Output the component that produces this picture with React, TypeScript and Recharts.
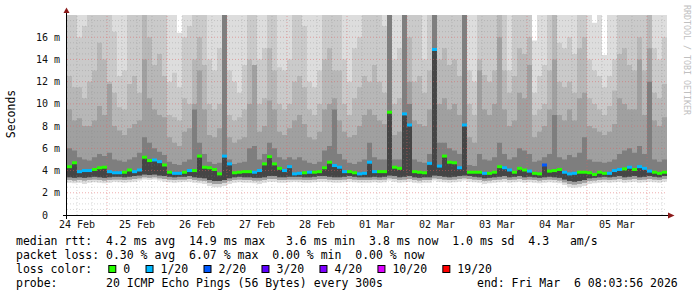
import React from 'react';
import { ComposedChart, Area, Line, XAxis, YAxis, ReferenceLine } from 'recharts';

// one value every 2 hours, starting 24 Feb 08:00 (hours counted from 24 Feb 00:00)
const START_HOUR = 8;
const STEP_HOURS = 2;

const dayLabels = ['24 Feb', '25 Feb', '26 Feb', '27 Feb', '28 Feb', '01 Mar', '02 Mar', '03 Mar', '04 Mar', '05 Mar'];
const dayNoons = [12, 36, 60, 84, 108, 132, 156, 180, 204, 228];
const yTicks = [0, 2, 4, 6, 8, 10, 12, 14, 16];

// median rtt in ms
const medianRtt = [
  4.35, 4.7, 3.9, 4.0, 4.0, 4.1, 4.25, 4.3, 3.9, 3.8, 3.8, 3.85,
  4.05, 3.9, 4.05, 5.2, 4.9, 4.95, 4.8, 4.5, 3.85, 3.75, 3.75, 3.85,
  4.0, 4.0, 5.3, 4.3, 4.25, 4.1, 3.7, 5.3, 4.6, 3.8, 3.85, 3.9,
  3.9, 3.85, 4.0, 4.6, 5.25, 4.6, 4.2, 4.0, 4.35, 3.7, 3.75, 3.8,
  3.85, 3.85, 3.9, 4.25, 4.75, 4.45, 4.3, 3.9, 3.9, 3.8, 3.7, 3.75,
  4.75, 3.9, 3.9, 3.9, 9.25, 4.3, 4.2, 9.1, 8.1, 3.9, 3.85, 3.8,
  4.65, 14.9, 4.4, 5.3, 4.75, 4.7, 4.25, 8.1, 3.85, 3.85, 3.85, 3.75,
  3.75, 3.85, 4.35, 4.25, 4.05, 3.85, 4.2, 4.05, 3.95, 3.75, 3.7, 4.5,
  3.95, 4.0, 4.1, 3.85, 3.7, 3.75, 3.85, 3.85, 3.8, 3.65, 3.85, 3.75,
  3.75, 4.0, 4.1, 4.15, 4.3, 4.1, 4.35, 4.2, 3.95, 3.85, 3.75, 3.85,
];

// lost pings out of 20
const lostPings = [
  0, 0, 1, 1, 1, 0, 0, 0, 1, 1, 1, 0,
  0, 1, 1, 0, 0, 1, 1, 0, 0, 1, 1, 0,
  1, 0, 0, 0, 0, 0, 0, 1, 1, 0, 0, 0,
  0, 1, 1, 0, 0, 0, 0, 1, 1, 1, 1, 0,
  1, 0, 0, 0, 0, 1, 1, 1, 0, 0, 1, 1,
  1, 1, 0, 0, 0, 0, 0, 1, 1, 0, 0, 0,
  1, 1, 1, 0, 0, 0, 1, 1, 0, 0, 0, 1,
  0, 0, 0, 1, 1, 0, 0, 0, 1, 0, 0, 2,
  0, 0, 0, 1, 1, 1, 0, 0, 0, 0, 0, 0,
  1, 1, 1, 0, 1, 0, 1, 1, 1, 0, 0, 0,
];

// smoke: lower edges
const smokeLow1 = [
  2.9, 2.85, 2.9, 2.8, 2.9, 2.95, 2.9, 2.85, 2.9, 3.0, 2.95, 2.9,
  2.95, 3.0, 3.1, 3.2, 3.15, 3.2, 3.1, 3.0, 2.95, 2.9, 2.95, 3.0,
  3.0, 2.9, 2.85, 2.8, 2.6, 2.5, 2.5, 2.6, 2.8, 2.9, 2.95, 2.9,
  2.9, 2.85, 2.8, 2.9, 3.0, 3.0, 2.9, 2.9, 2.95, 3.0, 2.95, 2.9,
  2.9, 2.95, 3.0, 3.0, 2.95, 2.9, 2.9, 2.95, 3.0, 2.95, 2.9, 2.9,
  2.9, 2.95, 2.9, 2.95, 3.1, 3.0, 2.9, 2.95, 3.0, 2.9, 2.85, 2.9,
  2.9, 3.1, 3.0, 2.95, 2.9, 2.95, 3.0, 3.1, 3.0, 2.95, 2.9, 2.8,
  2.85, 2.9, 2.95, 3.0, 2.9, 2.95, 3.0, 2.9, 2.95, 2.9, 2.85, 2.9,
  2.95, 2.9, 2.85, 2.7, 2.5, 2.45, 2.5, 2.6, 2.8, 2.85, 2.9, 2.95,
  2.9, 2.95, 3.0, 2.9, 2.95, 3.0, 2.9, 2.95, 3.0, 2.95, 2.9, 3.0,
];
const smokeLow2 = [
  3.15, 3.1, 3.15, 3.1, 3.15, 3.2, 3.15, 3.1, 3.15, 3.2, 3.2, 3.15,
  3.2, 3.25, 3.3, 3.4, 3.35, 3.4, 3.3, 3.25, 3.2, 3.15, 3.2, 3.2,
  3.25, 3.15, 3.1, 3.05, 2.9, 2.8, 2.8, 2.9, 3.05, 3.15, 3.2, 3.15,
  3.15, 3.1, 3.1, 3.15, 3.25, 3.25, 3.15, 3.15, 3.2, 3.2, 3.2, 3.15,
  3.15, 3.2, 3.25, 3.25, 3.2, 3.15, 3.15, 3.2, 3.25, 3.2, 3.15, 3.15,
  3.15, 3.2, 3.15, 3.2, 3.3, 3.25, 3.15, 3.2, 3.25, 3.15, 3.1, 3.15,
  3.15, 3.3, 3.25, 3.2, 3.15, 3.2, 3.25, 3.3, 3.25, 3.2, 3.15, 3.05,
  3.1, 3.15, 3.2, 3.25, 3.15, 3.2, 3.25, 3.15, 3.2, 3.15, 3.1, 3.15,
  3.2, 3.15, 3.1, 2.95, 2.8, 2.75, 2.8, 2.9, 3.05, 3.1, 3.15, 3.2,
  3.15, 3.2, 3.25, 3.15, 3.2, 3.25, 3.15, 3.2, 3.25, 3.2, 3.15, 3.25,
];
const smokeLow3 = [
  3.4, 3.35, 3.4, 3.35, 3.4, 3.45, 3.4, 3.35, 3.4, 3.45, 3.45, 3.4,
  3.45, 3.5, 3.55, 3.65, 3.6, 3.65, 3.55, 3.5, 3.45, 3.4, 3.45, 3.45,
  3.5, 3.4, 3.35, 3.3, 3.15, 3.05, 3.05, 3.15, 3.3, 3.4, 3.45, 3.4,
  3.4, 3.35, 3.35, 3.4, 3.5, 3.5, 3.4, 3.4, 3.45, 3.45, 3.45, 3.4,
  3.4, 3.45, 3.5, 3.5, 3.45, 3.4, 3.4, 3.45, 3.5, 3.45, 3.4, 3.4,
  3.4, 3.45, 3.4, 3.45, 3.55, 3.5, 3.4, 3.45, 3.5, 3.4, 3.35, 3.4,
  3.4, 3.55, 3.5, 3.45, 3.4, 3.45, 3.5, 3.55, 3.5, 3.45, 3.4, 3.3,
  3.35, 3.4, 3.45, 3.5, 3.4, 3.45, 3.5, 3.4, 3.45, 3.4, 3.35, 3.4,
  3.45, 3.4, 3.35, 3.2, 3.05, 3.0, 3.05, 3.15, 3.3, 3.35, 3.4, 3.45,
  3.4, 3.45, 3.5, 3.4, 3.45, 3.5, 3.4, 3.45, 3.5, 3.45, 3.4, 3.5,
];

// smoke: upper edges, lightest band first
const smokeHigh1 = [
  18, 18, 18, 18, 18, 18, 18, 18, 18, 18, 18, 18,
  18, 18, 18, 18, 18, 18, 18, 18, 18, 18, 16.4, 18,
  18, 18, 18, 18, 18, 18, 18, 18, 18, 18, 18, 18,
  18, 18, 18, 18, 18, 18, 18, 18, 18, 18, 18, 18,
  18, 18, 18, 18, 18, 18, 18, 18, 18, 18, 18, 18,
  18, 18, 18, 18, 18, 18, 18, 18, 18, 18, 18, 18,
  18, 18, 18, 18, 18, 18, 18, 18, 18, 18, 18, 18,
  18, 18, 18, 18, 18, 18, 18, 18, 18, 15.7, 18, 18,
  18, 18, 18, 18, 18, 18, 18, 18, 18, 17.3, 18, 14.4,
  18, 18, 18, 18, 18, 18, 18, 18, 18, 18, 18, 18,
];
const smokeHigh2 = [
  18, 18, 16, 17, 18, 18, 18, 18, 18, 16.5, 12.5, 13,
  18, 18, 18, 18, 18, 18, 18, 18, 12, 12.8, 11.5, 16,
  17, 18, 18, 18, 14, 13, 15, 18, 13, 12, 11, 13.5,
  18, 18, 14, 15, 18, 18, 13.3, 13, 14, 18, 18, 17,
  12, 11.5, 13, 18, 18, 18, 18, 14, 12, 15, 16, 18,
  18, 18, 18, 17, 18, 14, 15, 18, 18, 18, 18, 14,
  18, 18, 18, 18, 18, 18, 18, 18, 13, 12, 18, 18,
  18, 18, 18, 18, 13, 18, 18, 18, 18, 11, 12.5, 13.5,
  18, 18, 15.5, 15, 16, 14.5, 18, 18, 14, 13, 12.5, 11.5,
  12.5, 14, 18, 18, 18, 18, 18, 18, 18, 15, 14, 16,
];
const smokeHigh3 = [
  12.5, 11.5, 11.5, 10.5, 12, 13, 15.5, 14, 12, 11, 9.7, 9.5,
  11.8, 12.5, 11, 18, 16, 13.5, 14.5, 12.5, 9, 8.8, 8.5, 10.5,
  10, 14, 16, 13.5, 10, 9.5, 10, 18, 9, 8.5, 8.8, 9.5,
  14, 13.5, 10, 10.5, 15, 13, 10, 9.5, 10, 12, 12.5, 11.5,
  9.5, 9, 10, 14, 15, 13, 13, 10, 9, 10.5, 11.5, 12.5,
  12, 13.5, 12, 11, 18, 10, 10.5, 18, 16, 12, 12.5, 11,
  13, 18, 14, 15, 13.5, 14, 12.5, 18, 10, 9, 14, 12.6,
  12, 13, 18, 13, 11, 12.5, 15, 14.5, 16, 9, 9.5, 10,
  13, 18, 12, 11.5, 12, 11, 15, 16, 10.5, 10, 9.5, 9,
  9.8, 11.2, 14.5, 15, 13.5, 13, 16, 13, 18, 11, 10.5, 11.8,
];
const smokeHigh4 = [
  9.5, 8.5, 8.7, 8, 8, 8.5, 9.8, 9, 11.8, 8, 7.6, 7.2,
  7.8, 8.2, 8.5, 14, 10.5, 9.5, 9, 8.8, 7, 6.5, 6.2, 7.5,
  7.8, 10, 13, 9.5, 7.2, 7, 7.8, 18, 7, 6.5, 6.8, 7,
  10, 13.5, 7.5, 8, 10.3, 9.5, 7.5, 7.2, 7.8, 8.5, 9, 8.2,
  7, 6.8, 7.5, 9.5, 10, 10.5, 8.5, 7.5, 7, 7.2, 8, 9,
  9.5, 9, 8.5, 8.2, 18, 7.2, 7.5, 18, 12, 8.5, 8.2, 8,
  9.5, 18, 10, 10.5, 9.5, 10, 9, 18, 7, 6.5, 13, 9.5,
  9, 10, 16, 9.5, 8, 8.5, 11, 10.5, 13.5, 7, 7.5, 8,
  9.5, 14, 9, 8.5, 9.5, 8.5, 10.5, 11, 8, 7.8, 7.5, 7.2,
  7.5, 8.2, 10.5, 10, 9.5, 9.5, 14, 9, 15, 8.5, 8, 8.8,
];
const smokeHigh5 = [
  6, 5.8, 5.2, 5, 4.9, 5.2, 5.5, 5.3, 5.6, 5, 4.9, 4.8,
  5, 5.2, 5.6, 7, 6.5, 6, 5.7, 5.4, 4.8, 4.6, 4.5, 4.8,
  5, 9.5, 6.5, 5.5, 4.8, 4.6, 4.7, 18, 5, 4.6, 4.7, 4.8,
  6, 6.2, 5, 5.5, 6.5, 6, 5.2, 5, 5.2, 5, 5.2, 4.9,
  4.7, 4.6, 4.8, 5.8, 6.2, 9.5, 5.5, 5, 4.7, 4.6, 4.8, 5,
  6.5, 5.2, 5, 5, 18, 5, 5, 18, 10, 5, 4.8, 4.7,
  5.5, 18, 6.5, 6.5, 6, 5.8, 5.5, 18, 4.5, 4.4, 5.5, 5,
  4.9, 5.2, 6.5, 5.5, 5, 5.2, 6, 5.8, 5.5, 4.8, 4.9, 5.2,
  5.5, 9, 5.2, 5, 5.4, 5.2, 5.6, 7, 5, 4.8, 4.8, 4.7,
  4.8, 5, 5.5, 5.8, 6, 5.6, 6.2, 5.5, 12, 5, 4.8, 5,
];

const lossSteps = [0, 1, 2, 3, 4, 10, 19];
const lossColors = ['#26ff00', '#00b8ff', '#0059ff', '#5e00ff', '#7e00ff', '#dd00ff', '#ff0000'];
const lossLabels = ['0', '1/20', '2/20', '3/20', '4/20', '10/20', '19/20'];

const MONO = '"DejaVu Sans Mono", monospace';

const colorForLoss = (lost: number) => {
  let c = lossColors[0];
  lossSteps.forEach((s, k) => {
    if (lost >= s) c = lossColors[k];
  });
  return c;
};

const rows = medianRtt.map((m, i) => ({
  t: START_HOUR + i * STEP_HOURS,
  median: m,
  lost: lostPings[i],
  lo1: smokeLow1[i],
  lo2: smokeLow2[i],
  lo3: smokeLow3[i],
  hi1: smokeHigh1[i],
  hi2: smokeHigh2[i],
  hi3: smokeHigh3[i],
  hi4: smokeHigh4[i],
  hi5: smokeHigh5[i],
}));
// closing row so the last step has a width
const data = [...rows, { ...rows[rows.length - 1], t: START_HOUR + rows.length * STEP_HOURS }];

const bands = [
  { key: 'b1', fill: '#dddddd', get: (d: any) => [d.lo1, d.hi1] },
  { key: 'b2', fill: '#cacaca', get: (d: any) => [d.lo2, d.hi2] },
  { key: 'b3', fill: '#b7b7b7', get: (d: any) => [d.lo2, d.hi3] },
  { key: 'b4', fill: '#a0a0a0', get: (d: any) => [d.lo2, d.hi4] },
  { key: 'b5', fill: '#7e7e7e', get: (d: any) => [d.lo3, d.hi5] },
  { key: 'b6', fill: '#454545', get: (d: any) => [d.lo3, d.median] },
];

const hourGrid: number[] = [];
for (let h = 12; h < 248; h += 6) hourGrid.push(h);
const valueGrid: number[] = [];
for (let v = 0.5; v < 18; v += 0.5) valueGrid.push(v);

const XTick = ({ x, payload }: any) => (
  <text x={x} y={228} textAnchor="middle" fontFamily={MONO} fontSize={10} fill="#111">
    {dayLabels[dayNoons.indexOf(payload.value)]}
  </text>
);

const YTick = ({ y, payload }: any) => (
  <text x={payload.value === 0 ? 48 : 60} y={y + 3.5} textAnchor="end" fontFamily={MONO} fontSize={10} fill="#111">
    {payload.value === 0 ? '0' : `${payload.value} m`}
  </text>
);

const MedianMark = (p: any) => {
  const { cx, cy, index } = p;
  if (index >= medianRtt.length || cx == null || cy == null) return <g key={`m${index}`} />;
  return <rect key={`m${index}`} x={cx} y={cy - 1.5} width={5} height={3} fill={colorForLoss(lostPings[index])} />;
};

const legendRows = [
  'median rtt:  4.2 ms avg  14.9 ms max   3.6 ms min  3.8 ms now  1.0 ms sd  4.3   am/s',
  'packet loss: 0.30 % avg  6.07 % max  0.00 % min  0.00 % now',
  'loss color:',
  'probe:       20 ICMP Echo Pings (56 Bytes) every 300s',
];
const rowBaselines = [245, 258.8, 272.7, 286.6];

const Overlay = () => {
  let bx = 108.3;
  const boxes = lossLabels.map((label, k) => {
    const x = bx;
    bx = x + 15 + label.length * 6.92 + 15.3;
    return (
      <g key={label}>
        <rect x={x + 0.5} y={265.5} width={7} height={7} fill={lossColors[k]} stroke="#000" strokeWidth={1} />
        <text x={x + 15} y={rowBaselines[2]} fontFamily={MONO} fontSize={11.5} fill="#000">{label}</text>
      </g>
    );
  });
  return (
    <svg width={697} height={297} style={{ position: 'absolute', left: 0, top: 0, pointerEvents: 'none' }}>
      <line x1={66.5} y1={219} x2={66.5} y2={12} stroke="#000" strokeWidth={1} />
      <line x1={63} y1={215.5} x2={669} y2={215.5} stroke="#000" strokeWidth={1} />
      <polygon points="66.5,7.5 63.5,13 69.5,13" fill="#8b1a1a" />
      <polygon points="674.5,215.5 668,212.5 668,218.5" fill="#8b1a1a" />
      <text transform="translate(15,114) rotate(-90)" textAnchor="middle" fontFamily={MONO} fontSize={11.5} fill="#000">
        Seconds
      </text>
      <text transform="translate(684,5) rotate(90)" fontFamily={MONO} fontSize={8.3} fill="#c0c0c0">
        RRDTOOL / TOBI OETIKER
      </text>
      {legendRows.map((r, k) => (
        <text key={k} x={16} y={rowBaselines[k]} fontFamily={MONO} fontSize={11.5} fill="#000" style={{ whiteSpace: 'pre' }}>
          {r}
        </text>
      ))}
      {boxes}
      <text x={477} y={rowBaselines[3]} fontFamily={MONO} fontSize={11.5} fill="#000" style={{ whiteSpace: 'pre' }}>
        end: Fri Mar  6 08:03:56 2026
      </text>
    </svg>
  );
};

export default function App() {
  return (
    <div style={{ position: 'absolute', left: 0, top: 0, width: 697, height: 297, background: '#fff' }}>
      <ComposedChart width={697} height={297} data={data} margin={{ top: 15, right: 30, bottom: 52, left: 7 }}>
        <XAxis
          type="number"
          dataKey="t"
          domain={[8, 248]}
          ticks={dayNoons}
          interval={0}
          tick={<XTick />}
          axisLine={false}
          tickLine={false}
          height={30}
          allowDataOverflow
        />
        <YAxis
          type="number"
          domain={[0, 18]}
          ticks={yTicks}
          interval={0}
          tick={<YTick />}
          axisLine={false}
          tickLine={false}
          width={60}
          allowDataOverflow
        />
        {bands.map((b) => (
          <Area
            key={b.key}
            dataKey={b.get}
            type="stepAfter"
            stroke="none"
            fill={b.fill}
            fillOpacity={1}
            dot={false}
            activeDot={false}
            isAnimationActive={false}
          />
        ))}
        {hourGrid.map((h) => (
          <ReferenceLine
            key={`vx${h}`}
            x={h}
            stroke={h % 24 === 0 ? '#e06060' : '#808080'}
            strokeOpacity={h % 24 === 0 ? 0.5 : 0.3}
            strokeDasharray="1 2"
          />
        ))}
        {valueGrid.map((v) => (
          <ReferenceLine
            key={`hy${v}`}
            y={v}
            stroke={v % 2 === 0 ? '#e06060' : '#808080'}
            strokeOpacity={v % 2 === 0 ? 0.5 : 0.3}
            strokeDasharray="1 2"
          />
        ))}
        <Line
          dataKey="median"
          stroke="none"
          dot={<MedianMark />}
          activeDot={false}
          isAnimationActive={false}
        />
      </ComposedChart>
      <Overlay />
    </div>
  );
}
